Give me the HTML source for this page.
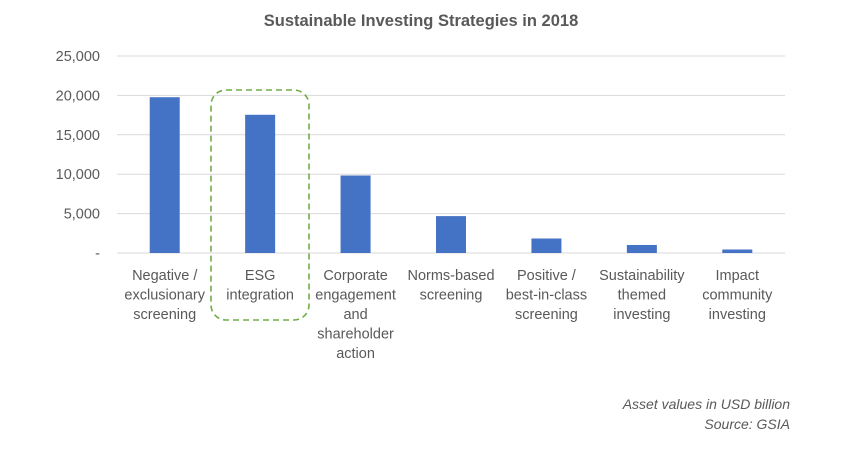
<!DOCTYPE html>
<html><head><meta charset="utf-8"><style>
body{margin:0;background:#fff;width:858px;height:454px;overflow:hidden;font-family:"Liberation Sans",sans-serif}
</style></head><body>
<svg width="858" height="454" id="c" style="font-family:'Liberation Sans',sans-serif">
<text x="421" y="26" text-anchor="middle" font-size="16.5" font-weight="bold" fill="#595959">Sustainable Investing Strategies in 2018</text>
<g id="grid"></g><g id="bars"></g><g id="xl"></g>
<rect x="211" y="90" width="98" height="230" rx="15" fill="none" stroke="#70AD47" stroke-width="1.6" stroke-dasharray="6,4"/>
<text x="790" y="409" text-anchor="end" font-size="14" font-style="italic" fill="#595959">Asset values in USD billion</text>
<text x="790" y="429" text-anchor="end" font-size="14" font-style="italic" fill="#595959">Source: GSIA</text>
</svg>
<script>
const categories=[["Negative /","exclusionary","screening"],["ESG","integration"],["Corporate","engagement","and","shareholder","action"],["Norms-based","screening"],["Positive /","best-in-class","screening"],["Sustainability","themed","investing"],["Impact","community","investing"]];
const values=[19770,17540,9835,4680,1840,1020,444];
const ticks=[0,5000,10000,15000,20000,25000];
const tickLabels=["-","5,000","10,000","15,000","20,000","25,000"];
const NS="http://www.w3.org/2000/svg";
const x0=117,x1=785,y0=253,y1=56,max=25000;
const bw=(x1-x0)/categories.length;
const y=v=>y0-(v/max)*(y0-y1);
const xc=i=>x0+bw*(i+0.5);
function mk(t,a,p){const e=document.createElementNS(NS,t);for(const k in a)e.setAttribute(k,a[k]);p.appendChild(e);return e;}
const g=document.getElementById('grid'),b=document.getElementById('bars'),xl=document.getElementById('xl');
ticks.forEach((t,i)=>{
 const l=mk('line',{x1:x0,x2:x1,y1:y(t),y2:y(t),stroke:'#d9d9d9','stroke-width':1},g);
 
 
 const tx=mk('text',{x:100,y:y(t)+5,'text-anchor':'end','font-size':14.5,fill:'#595959'},g);
 tx.textContent=tickLabels[i];
 
 
});
values.forEach((v,i)=>{
 const r=mk('rect',{x:xc(i)-15,y:y(v),width:30,height:y0-y(v),fill:'#4472C4'},b);
 
 
});
categories.forEach((lines,i)=>{
 const t=mk('text',{x:xc(i),'text-anchor':'middle','font-size':14.5,fill:'#595959'},xl);
 
 
 lines.forEach((s,j)=>{const ts=mk('tspan',{x:xc(i),y:280+j*19.5},t);ts.textContent=s;});
});
</script>
</body></html>
